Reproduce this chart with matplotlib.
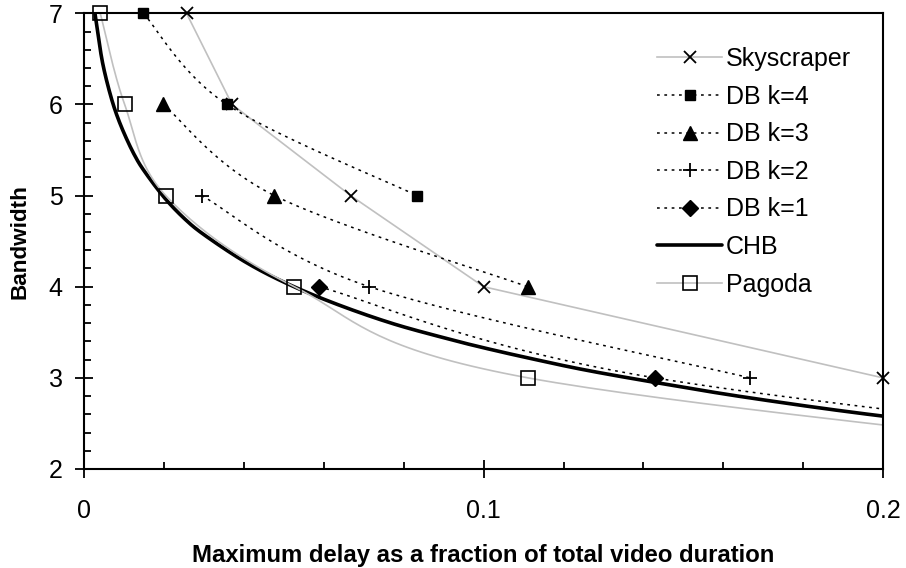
import numpy as np
import matplotlib
matplotlib.use("Agg")
import matplotlib.pyplot as plt
from matplotlib.lines import Line2D
from matplotlib.ticker import MultipleLocator

plt.rcParams['font.family'] = ['Liberation Sans', 'DejaVu Sans']

# ---- data ----
sky_x = [0.0256, 0.0370, 0.0667, 0.100, 0.200, 0.333]
sky_y = [7, 6, 5, 4, 3, 2]

db4_x = [0.0148, 0.0357, 0.0833]
db4_y = [7, 6, 5]

db3_x = [0.0198, 0.0476, 0.111]
db3_y = [6, 5, 4]

db2_x = [0.0294, 0.0714, 0.1667]
db2_y = [5, 4, 3]

db1_x = [0.0588, 0.1429, 0.333]
db1_y = [4, 3, 2]

chb_x = [0.0027, 0.004, 0.005, 0.0065, 0.008, 0.010, 0.0125, 0.015, 0.020, 0.025,
         0.030, 0.040, 0.050, 0.0625, 0.0769, 0.0909, 0.100, 0.111, 0.125, 0.1429,
         0.1667, 0.200, 0.250]
chb_y = [6.99, 6.60, 6.37, 6.11, 5.90, 5.68, 5.45, 5.27, 4.98, 4.75,
         4.57, 4.28, 4.05, 3.82, 3.60, 3.43, 3.33, 3.22, 3.09, 2.95,
         2.78, 2.58, 2.33]

pag_x = [0.0040, 0.0101, 0.0204, 0.0526, 0.1111, 0.300]
pag_y = [7, 6, 5, 4, 3, 2]

x_ticks = [0, 0.1, 0.2]
x_tick_labels = ['0', '0.1', '0.2']
y_ticks = [2, 3, 4, 5, 6, 7]
y_tick_labels = ['2', '3', '4', '5', '6', '7']

XMIN, XMAX, YMIN, YMAX = 0, 0.2, 2, 7


def smooth(xs, ys, n=40):
    """Excel-like smoothed line (Catmull-Rom Bezier) for rendering."""
    P = np.column_stack([xs, ys]).astype(float)
    if len(P) < 3:
        return P[:, 0], P[:, 1]
    out = []
    m = len(P)
    t = np.linspace(0, 1, n)
    for i in range(m - 1):
        p0 = P[max(i - 1, 0)]
        p1 = P[i]
        p2 = P[i + 1]
        p3 = P[min(i + 2, m - 1)]
        c1 = p1 + (p2 - p0) / 6.0
        c2 = p2 - (p3 - p1) / 6.0
        seg = ((1 - t) ** 3)[:, None] * p1 + (3 * (1 - t) ** 2 * t)[:, None] * c1 \
            + (3 * (1 - t) * t ** 2)[:, None] * c2 + (t ** 3)[:, None] * p2
        out.append(seg if i == 0 else seg[1:])
    S = np.vstack(out)
    return S[:, 0], S[:, 1]


fig = plt.figure(figsize=(9.06, 5.68), dpi=100)
ax = fig.add_axes([84.3 / 906, 1 - 469 / 568, (883 - 84.3) / 906, (469 - 13.3) / 568])

GRAY = '#c0c0c0'
dot = (0, (1.8, 3.0))

series = [
    # x, y, smooth?, line kwargs, marker kwargs, label
    (sky_x, sky_y, False, dict(color=GRAY, lw=1.2, ls='-'),
     dict(marker='x', ms=9, mew=1.3, mec='black', mfc='black'), 'Skyscraper'),
    (db4_x, db4_y, True, dict(color='black', lw=1.1, ls=dot),
     dict(marker='s', ms=7.5, mew=1.0, mec='black', mfc='black'), 'DB k=4'),
    (db3_x, db3_y, True, dict(color='black', lw=1.1, ls=dot),
     dict(marker='^', ms=10.5, mew=1.0, mec='black', mfc='black'), 'DB k=3'),
    (db2_x, db2_y, True, dict(color='black', lw=1.1, ls=dot),
     dict(marker='+', ms=10.5, mew=1.3, mec='black', mfc='black'), 'DB k=2'),
    (db1_x, db1_y, True, dict(color='black', lw=1.1, ls=dot),
     dict(marker='D', ms=8.5, mew=1.0, mec='black', mfc='black'), 'DB k=1'),
    (chb_x, chb_y, True, dict(color='black', lw=2.6, ls='-', solid_capstyle='round'),
     None, 'CHB'),
    (pag_x, pag_y, True, dict(color=GRAY, lw=1.2, ls='-'),
     dict(marker='s', ms=10.5, mew=1.2, mec='black', mfc='none'), 'Pagoda'),
]

handles = []
for xs, ys, sm, lkw, mkw, lab in series:
    if sm:
        lx, ly = smooth(xs, ys)
    else:
        lx, ly = np.asarray(xs, float), np.asarray(ys, float)
    ax.plot(lx, ly, zorder=2, **lkw)
    if mkw is not None:
        px = [x for x, y in zip(xs, ys) if XMIN <= x <= XMAX + 1e-9 and YMIN <= y <= YMAX]
        py = [y for x, y in zip(xs, ys) if XMIN <= x <= XMAX + 1e-9 and YMIN <= y <= YMAX]
        ax.plot(px, py, ls='none', zorder=3, clip_on=False, **mkw)
        handles.append(Line2D([], [], label=lab, **lkw, **mkw))
    else:
        handles.append(Line2D([], [], label=lab, **lkw))

ax.set_xlim(XMIN, XMAX)
ax.set_ylim(YMIN, YMAX)
ax.set_xticks(x_ticks)
ax.set_xticklabels(x_tick_labels)
ax.set_yticks(y_ticks)
ax.set_yticklabels(y_tick_labels)
ax.xaxis.set_minor_locator(MultipleLocator(0.02))
ax.yaxis.set_minor_locator(MultipleLocator(0.2))

for s in ax.spines.values():
    s.set_linewidth(1.5)
    s.set_color('black')

ax.tick_params(axis='both', which='major', direction='inout', length=13, width=1.3,
               labelsize=18, colors='black')
ax.tick_params(axis='y', which='major', pad=9)
ax.tick_params(axis='x', which='major', pad=15)
ax.tick_params(axis='both', which='minor', direction='in', length=5, width=1.3)

ax.set_xlabel('Maximum delay as a fraction of total video duration',
              fontsize=17.2, fontweight='bold', labelpad=15)
ax.set_ylabel('Bandwidth', fontsize=16.2, fontweight='bold', labelpad=13)

fig.legend(handles=handles, loc='upper left', bbox_to_anchor=(657 / 906, 1 - 47 / 568),
           frameon=False, fontsize=18, borderpad=0, borderaxespad=0,
           handlelength=2.6, handletextpad=0.16, labelspacing=0.545)

fig.savefig('out.png', dpi=100)
